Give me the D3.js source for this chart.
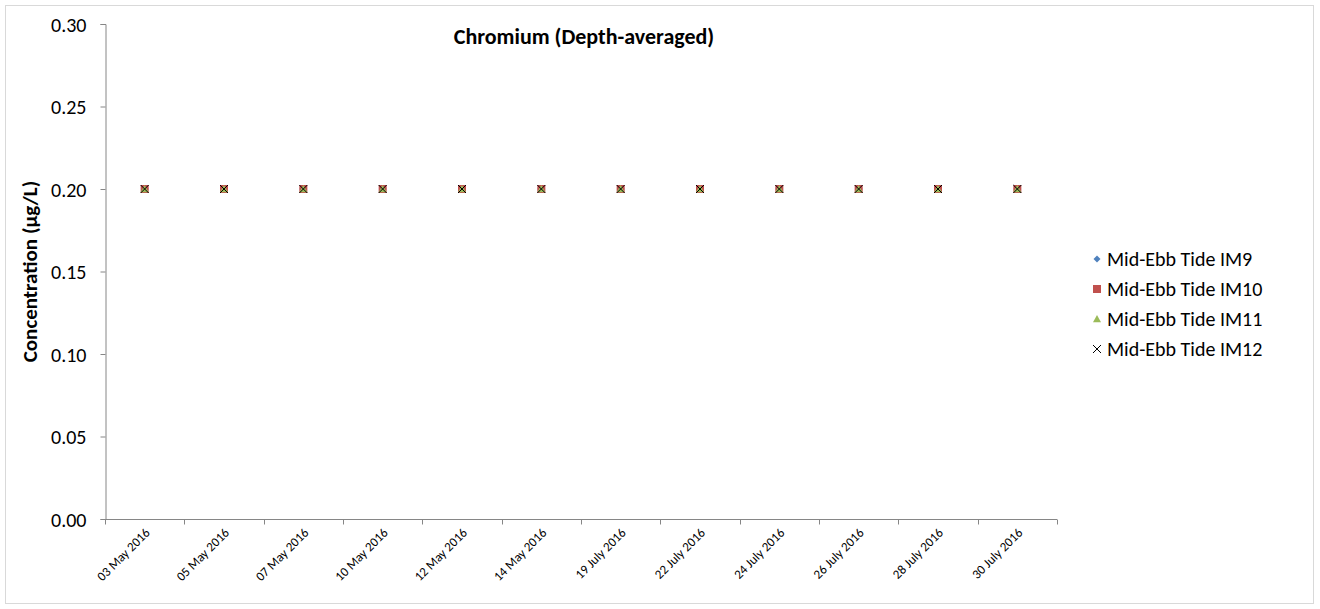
<!DOCTYPE html>
<html><head><meta charset="utf-8">
<script src="https://cdn.jsdelivr.net/npm/d3@7"></script>
<style>body{margin:0;background:#fff;} text{font-family:Carlito,Calibri,Lato,"Open Sans",sans-serif;}</style>
</head><body>
<svg id="c" width="1320" height="609"></svg>
<script>
const categories = ["03 May 2016","05 May 2016","07 May 2016","10 May 2016","12 May 2016","14 May 2016","19 July 2016","22 July 2016","24 July 2016","26 July 2016","28 July 2016","30 July 2016"];
const seriesNames = ["Mid-Ebb Tide IM9","Mid-Ebb Tide IM10","Mid-Ebb Tide IM11","Mid-Ebb Tide IM12"];
const im9  = [0.2,0.2,0.2,0.2,0.2,0.2,0.2,0.2,0.2,0.2,0.2,0.2];
const im10 = [0.2,0.2,0.2,0.2,0.2,0.2,0.2,0.2,0.2,0.2,0.2,0.2];
const im11 = [0.2,0.2,0.2,0.2,0.2,0.2,0.2,0.2,0.2,0.2,0.2,0.2];
const im12 = [0.2,0.2,0.2,0.2,0.2,0.2,0.2,0.2,0.2,0.2,0.2,0.2];
const yTicks = [0,0.05,0.10,0.15,0.20,0.25,0.30];

const svg = d3.select("#c");
svg.append("rect").attr("x",5.5).attr("y",5.5).attr("width",1308).attr("height",598)
  .attr("fill","#fff").attr("stroke","#d9d9d9");

const L=105, R=1057, T=24, B=519;
const x = d3.scaleBand().domain(categories).range([L,R]);
const y = d3.scaleLinear().domain([0,0.3]).range([B,T]);
const axisCol="#868686";
const FONT="Carlito,Calibri,Lato,sans-serif";

// y axis
const ya = svg.append("g").attr("transform",`translate(${L+0.5},0)`)
  .call(d3.axisLeft(y).tickValues(yTicks).tickFormat(d3.format(".2f")).tickSizeOuter(0).tickSize(5).tickPadding(14));
ya.attr("font-size",null).attr("font-family",null);
ya.select(".domain").attr("stroke",axisCol);
ya.selectAll(".tick line").attr("stroke",axisCol);
ya.selectAll(".tick text").attr("font-size",20).attr("fill","#000").attr("dy","0.35em").style("font-family",FONT);

// x axis
const xa = svg.append("g").attr("transform",`translate(0,${B+0.5})`);
xa.append("line").attr("x1",L).attr("x2",R).attr("stroke",axisCol);
const bounds = categories.map(c=>x(c)).concat([R]);
xa.selectAll("line.tk").data(bounds).join("line").attr("class","tk")
  .attr("x1",d=>Math.round(d)+0.5).attr("x2",d=>Math.round(d)+0.5).attr("y1",0).attr("y2",5).attr("stroke",axisCol);
xa.selectAll("text").data(categories).join("text")
  .attr("transform",d=>`translate(${x(d)+x.bandwidth()/2+6},${14}) rotate(-45)`)
  .attr("text-anchor","end").attr("font-size",13).attr("fill","#000").text(d=>d);

// axis title
svg.append("text").attr("transform",`translate(37,${(T+B)/2}) rotate(-90)`)
  .attr("text-anchor","middle").attr("font-size",21).attr("font-weight","bold").text("Concentration (µg/L)");
// title
svg.append("text").attr("x",584).attr("y",44).attr("text-anchor","middle")
  .attr("font-size",22).attr("font-weight","bold").text("Chromium (Depth-averaged)");

const cx = d=>x(d)+x.bandwidth()/2;
const colors = ["#4F81BD","#C0504D","#9BBB59","#000"];
function marker(g,type,s){
  if(type===0) g.append("path").attr("d",`M0,${-s}L${s},0L0,${s}L${-s},0Z`).attr("fill",colors[0]);
  if(type===1) g.append("rect").attr("x",-s).attr("y",-s).attr("width",2*s).attr("height",2*s).attr("fill",colors[1]);
  if(type===2) g.append("path").attr("d",`M0,${-s}L${s},${s*0.8}L${-s},${s*0.8}Z`).attr("fill",colors[2]);
  if(type===3) g.append("path").attr("d",`M${-s},${-s}L${s},${s}M${-s},${s}L${s},${-s}`).attr("stroke","#000").attr("stroke-width",1);
}
const all=[im9,im10,im11,im12];
all.forEach((arr,i)=>{
  svg.append("g").selectAll("g").data(arr.map((v,j)=>({c:categories[j],v}))).join("g")
    .attr("transform",d=>`translate(${cx(d.c)},${y(d.v)})`)
    .each(function(){marker(d3.select(this),i,4);});
});

// legend
seriesNames.forEach((n,i)=>{
  const yy=259+i*30;
  const g=svg.append("g").attr("transform",`translate(1097,${yy})`);
  marker(g,i,i===0?3.5:4);
  svg.append("text").attr("x",1107).attr("y",yy+7).attr("font-size",20).text(n);
});
</script>
</body></html>
